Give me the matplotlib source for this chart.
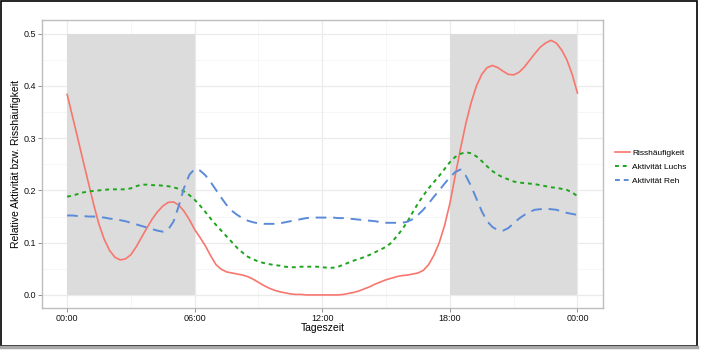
import matplotlib
matplotlib.use("Agg")
import matplotlib.pyplot as plt
from matplotlib.patches import Rectangle
from matplotlib.lines import Line2D

hours = [0.0, 0.25, 0.5, 0.75, 1.0, 1.25, 1.5, 1.75, 2.0, 2.25, 2.5, 2.75,
         3.0, 3.25, 3.5, 3.75, 4.0, 4.25, 4.5, 4.75, 5.0, 5.25, 5.5, 5.75,
         6.0, 6.25, 6.5, 6.75, 7.0, 7.25, 7.5, 7.75, 8.0, 8.25, 8.5, 8.75,
         9.0, 9.25, 9.5, 9.75, 10.0, 10.25, 10.5, 10.75, 11.0, 11.25, 11.5, 11.75,
         12.0, 12.25, 12.5, 12.75, 13.0, 13.25, 13.5, 13.75, 14.0, 14.25, 14.5, 14.75,
         15.0, 15.25, 15.5, 15.75, 16.0, 16.25, 16.5, 16.75, 17.0, 17.25, 17.5, 17.75,
         18.0, 18.25, 18.5, 18.75, 19.0, 19.25, 19.5, 19.75, 20.0, 20.25, 20.5, 20.75,
         21.0, 21.25, 21.5, 21.75, 22.0, 22.25, 22.5, 22.75, 23.0, 23.25, 23.5, 23.75,
         24.0]

riss = [0.384, 0.342, 0.300, 0.257, 0.215, 0.173, 0.135, 0.106, 0.085, 0.072, 0.067, 0.069,
        0.077, 0.092, 0.110, 0.128, 0.145, 0.159, 0.170, 0.177, 0.178, 0.172, 0.160, 0.144,
        0.125, 0.110, 0.094, 0.075, 0.058, 0.049, 0.044, 0.042, 0.040, 0.038, 0.035, 0.030,
        0.024, 0.018, 0.013, 0.009, 0.006, 0.004, 0.002, 0.001, 0.001, 0.000, 0.000, 0.000,
        0.000, 0.000, 0.000, 0.000, 0.001, 0.003, 0.005, 0.008, 0.012, 0.016, 0.021, 0.025,
        0.029, 0.032, 0.035, 0.037, 0.038, 0.040, 0.042, 0.047, 0.058, 0.076, 0.100, 0.133,
        0.175, 0.228, 0.280, 0.328, 0.368, 0.400, 0.422, 0.435, 0.439, 0.435, 0.428, 0.422,
        0.421, 0.426, 0.436, 0.449, 0.462, 0.474, 0.482, 0.487, 0.482, 0.469, 0.450, 0.422,
        0.386]

luchs = [0.188, 0.190, 0.193, 0.196, 0.198, 0.199, 0.200, 0.201, 0.202, 0.202, 0.202, 0.202,
         0.204, 0.208, 0.211, 0.211, 0.210, 0.210, 0.209, 0.208, 0.206, 0.203, 0.198, 0.191,
         0.182, 0.171, 0.159, 0.146, 0.134, 0.123, 0.112, 0.101, 0.090, 0.081, 0.073, 0.068,
         0.064, 0.061, 0.059, 0.057, 0.056, 0.054, 0.053, 0.053, 0.054, 0.054, 0.054, 0.054,
         0.053, 0.052, 0.052, 0.054, 0.058, 0.062, 0.066, 0.069, 0.073, 0.077, 0.082, 0.087,
         0.092, 0.100, 0.112, 0.125, 0.140, 0.158, 0.175, 0.190, 0.204, 0.216, 0.228, 0.241,
         0.254, 0.264, 0.270, 0.273, 0.271, 0.265, 0.256, 0.246, 0.237, 0.230, 0.225, 0.221,
         0.217, 0.215, 0.214, 0.213, 0.212, 0.210, 0.208, 0.206, 0.205, 0.203, 0.201, 0.196,
         0.189]

reh = [0.152, 0.152, 0.151, 0.151, 0.150, 0.150, 0.149, 0.148, 0.146, 0.145, 0.143, 0.141,
       0.138, 0.135, 0.132, 0.129, 0.126, 0.123, 0.121, 0.125, 0.140, 0.170, 0.205, 0.230,
       0.241, 0.238, 0.229, 0.216, 0.201, 0.186, 0.172, 0.161, 0.153, 0.147, 0.142, 0.139,
       0.137, 0.136, 0.136, 0.136, 0.137, 0.139, 0.141, 0.143, 0.145, 0.147, 0.148, 0.148,
       0.148, 0.148, 0.148, 0.147, 0.147, 0.146, 0.145, 0.144, 0.143, 0.142, 0.141, 0.139,
       0.138, 0.138, 0.138, 0.138, 0.140, 0.145, 0.153, 0.163, 0.175, 0.188, 0.200, 0.213,
       0.225, 0.235, 0.240, 0.228, 0.208, 0.184, 0.160, 0.141, 0.130, 0.124, 0.123, 0.128,
       0.137, 0.146, 0.153, 0.159, 0.163, 0.164, 0.165, 0.164, 0.163, 0.160, 0.157, 0.155,
       0.153]

night_start = [0, 18]
night_end = [6, 24]
night_top = 0.5

xticks = [0, 6, 12, 18, 24]
xticklabels = ["00:00", "06:00", "12:00", "18:00", "00:00"]
yticks = [0.0, 0.1, 0.2, 0.3, 0.4, 0.5]
yticklabels = ["0.0", "0.1", "0.2", "0.3", "0.4", "0.5"]
series_labels = ["Risshäufigkeit", "Aktivität Luchs", "Aktivität Reh"]

plt.rcParams['font.family'] = ['Liberation Sans', 'DejaVu Sans']

fig = plt.figure(figsize=(7.04, 3.52), dpi=100)
ax = fig.add_axes([42/704, 1-308/352, (603-42)/704, (308-20)/352])

ax.set_xlim(-1.18, 25.2)
ax.set_ylim(-0.025, 0.526)

# grid (ggplot theme_bw-like)
for x in [3, 9, 15, 21]:
    ax.axvline(x, color='#f5f5f5', lw=0.6, zorder=0)
for y in [0.05, 0.15, 0.25, 0.35, 0.45]:
    ax.axhline(y, color='#f5f5f5', lw=0.6, zorder=0)
for x in xticks:
    ax.axvline(x, color='#ebebeb', lw=0.9, zorder=0)
for y in yticks:
    ax.axhline(y, color='#ebebeb', lw=0.9, zorder=0)

for s, e in zip(night_start, night_end):
    ax.add_patch(Rectangle((s, 0), e - s, night_top, facecolor='#dcdcdc',
                           edgecolor='none', zorder=1))

c_red = '#F8766D'
c_green = '#1DA51D'
c_blue = '#5B8BD8'
ax.plot(hours, riss, color=c_red, lw=1.2, zorder=3, solid_capstyle='round')
ax.plot(hours, luchs, color=c_green, lw=1.4, zorder=3, dashes=(2.0, 2.0))
ax.plot(hours, reh, color=c_blue, lw=1.4, zorder=3, dashes=(5.5, 3.5))

ax.set_xticks(xticks)
ax.set_xticklabels(xticklabels)
ax.set_yticks(yticks)
ax.set_yticklabels(yticklabels)
ax.tick_params(axis='both', labelsize=6.5, length=3, width=0.6, color='#7f7f7f',
               pad=1.5, labelcolor='#111111')

for sp in ax.spines.values():
    sp.set_color('#bdbdbd')
    sp.set_linewidth(1.0)

ax.set_xlabel("Tageszeit", fontsize=7.5)
ax.xaxis.set_label_coords(0.5, -(323 - 308) / 288)
ax.set_ylabel("Relative Aktivität bzw. Risshäufigkeit", fontsize=7.5)
ax.yaxis.set_label_coords(-(42 - 21) / 561, 0.5)

handles = [Line2D([], [], color=c_red, lw=1.2),
           Line2D([], [], color=c_green, lw=1.4, dashes=(2.0, 2.0)),
           Line2D([], [], color=c_blue, lw=1.4, dashes=(2.5, 2.0))]
leg = fig.legend(handles, series_labels, loc='center left',
                 bbox_to_anchor=(612/704, 1-167/352), frameon=False,
                 fontsize=6, handlelength=1.7, handletextpad=0.35,
                 labelspacing=0.75, borderaxespad=0)

# outer frame of the image
fig.add_artist(Rectangle((0.7/704, 1-346/352), 696/704, (345.3)/352,
                         transform=fig.transFigure, facecolor='none',
                         edgecolor='black', lw=1.2))
fig.add_artist(Line2D([0, 697/704], [1-347/352, 1-347/352], transform=fig.transFigure,
                      color='#a8a8a8', lw=2.5))

fig.savefig("out.png", dpi=100)
